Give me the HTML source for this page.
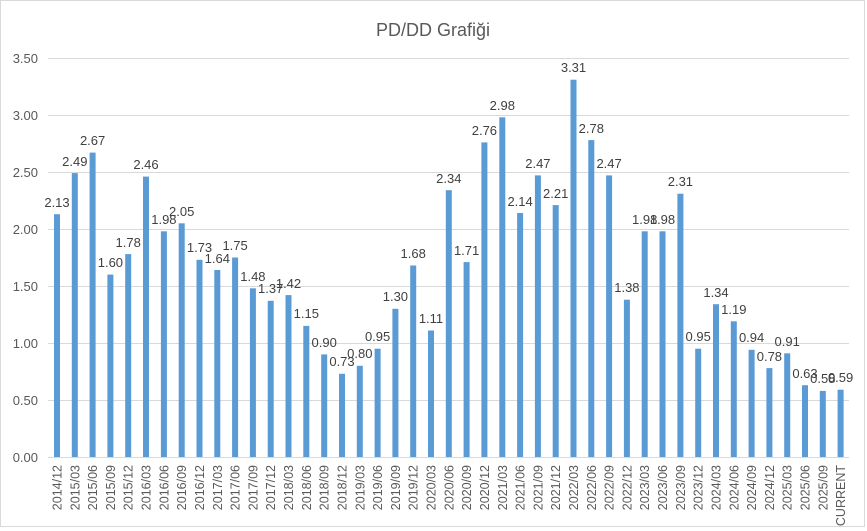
<!DOCTYPE html>
<html><head><meta charset="utf-8"><style>
html,body{margin:0;padding:0;background:#fff}
svg{display:block;font-family:"Liberation Sans",sans-serif}
</style></head><body>
<svg width="867" height="531" viewBox="0 0 867 531">
<rect x="0.5" y="0.5" width="864" height="526" fill="#fff" stroke="#d9d9d9"/>
<text x="433" y="36" font-size="18" fill="#595959" text-anchor="middle">PD/DD Grafiği</text>
<g stroke="#d9d9d9" stroke-width="1">
<line x1="48" x2="849" y1="58.5" y2="58.5"/><line x1="48" x2="849" y1="115.5" y2="115.5"/>
<line x1="48" x2="849" y1="172.5" y2="172.5"/><line x1="48" x2="849" y1="229.5" y2="229.5"/>
<line x1="48" x2="849" y1="286.5" y2="286.5"/><line x1="48" x2="849" y1="343.5" y2="343.5"/>
<line x1="48" x2="849" y1="400.5" y2="400.5"/><line x1="48" x2="849" y1="457.5" y2="457.5"/>
</g>
<g font-size="13" fill="#595959" text-anchor="end">
<text x="38" y="63">3.50</text><text x="38" y="120">3.00</text><text x="38" y="177">2.50</text>
<text x="38" y="234">2.00</text><text x="38" y="291">1.50</text><text x="38" y="348">1.00</text>
<text x="38" y="405">0.50</text><text x="38" y="462">0.00</text>
</g>
<g fill="#5b9bd5">
<rect x="54" y="214.2" width="6" height="242.8"/>
<rect x="71.8" y="173.1" width="6" height="283.9"/>
<rect x="89.6" y="152.6" width="6" height="304.4"/>
<rect x="107.4" y="274.6" width="6" height="182.4"/>
<rect x="125.2" y="254.1" width="6" height="202.9"/>
<rect x="143" y="176.6" width="6" height="280.4"/>
<rect x="160.9" y="231.3" width="6" height="225.7"/>
<rect x="178.7" y="223.3" width="6" height="233.7"/>
<rect x="196.5" y="259.8" width="6" height="197.2"/>
<rect x="214.3" y="270" width="6" height="187"/>
<rect x="232.1" y="257.5" width="6" height="199.5"/>
<rect x="249.9" y="288.3" width="6" height="168.7"/>
<rect x="267.7" y="300.8" width="6" height="156.2"/>
<rect x="285.5" y="295.1" width="6" height="161.9"/>
<rect x="303.3" y="325.9" width="6" height="131.1"/>
<rect x="321.2" y="354.4" width="6" height="102.6"/>
<rect x="339" y="373.8" width="6" height="83.2"/>
<rect x="356.8" y="365.8" width="6" height="91.2"/>
<rect x="374.6" y="348.7" width="6" height="108.3"/>
<rect x="392.4" y="308.8" width="6" height="148.2"/>
<rect x="410.2" y="265.5" width="6" height="191.5"/>
<rect x="428" y="330.5" width="6" height="126.5"/>
<rect x="445.8" y="190.2" width="6" height="266.8"/>
<rect x="463.6" y="262.1" width="6" height="194.9"/>
<rect x="481.4" y="142.4" width="6" height="314.6"/>
<rect x="499.3" y="117.3" width="6" height="339.7"/>
<rect x="517.1" y="213" width="6" height="244"/>
<rect x="534.9" y="175.4" width="6" height="281.6"/>
<rect x="552.7" y="205.1" width="6" height="251.9"/>
<rect x="570.5" y="79.7" width="6" height="377.3"/>
<rect x="588.3" y="140.1" width="6" height="316.9"/>
<rect x="606.1" y="175.4" width="6" height="281.6"/>
<rect x="623.9" y="299.7" width="6" height="157.3"/>
<rect x="641.7" y="231.3" width="6" height="225.7"/>
<rect x="659.5" y="231.3" width="6" height="225.7"/>
<rect x="677.4" y="193.7" width="6" height="263.3"/>
<rect x="695.2" y="348.7" width="6" height="108.3"/>
<rect x="713" y="304.2" width="6" height="152.8"/>
<rect x="730.8" y="321.3" width="6" height="135.7"/>
<rect x="748.6" y="349.8" width="6" height="107.2"/>
<rect x="766.4" y="368.1" width="6" height="88.9"/>
<rect x="784.2" y="353.3" width="6" height="103.7"/>
<rect x="802" y="385.2" width="6" height="71.8"/>
<rect x="819.8" y="390.9" width="6" height="66.1"/>
<rect x="837.6" y="389.7" width="6" height="67.3"/>
</g>
<g font-size="13" fill="#404040" text-anchor="middle">
<text x="57" y="207">2.13</text><text x="74.8" y="166">2.49</text><text x="92.6" y="145">2.67</text>
<text x="110.4" y="267">1.60</text><text x="128.2" y="247">1.78</text><text x="146" y="169">2.46</text>
<text x="163.9" y="224">1.98</text><text x="181.7" y="216">2.05</text><text x="199.5" y="252">1.73</text>
<text x="217.3" y="263">1.64</text><text x="235.1" y="250">1.75</text><text x="252.9" y="281">1.48</text>
<text x="270.7" y="293">1.37</text><text x="288.5" y="288">1.42</text><text x="306.3" y="318">1.15</text>
<text x="324.2" y="347">0.90</text><text x="342" y="366">0.73</text><text x="359.8" y="358">0.80</text>
<text x="377.6" y="341">0.95</text><text x="395.4" y="301">1.30</text><text x="413.2" y="258">1.68</text>
<text x="431" y="323">1.11</text><text x="448.8" y="183">2.34</text><text x="466.6" y="255">1.71</text>
<text x="484.4" y="135">2.76</text><text x="502.3" y="110">2.98</text><text x="520.1" y="206">2.14</text>
<text x="537.9" y="168">2.47</text><text x="555.7" y="198">2.21</text><text x="573.5" y="72">3.31</text>
<text x="591.3" y="133">2.78</text><text x="609.1" y="168">2.47</text><text x="626.9" y="292">1.38</text>
<text x="644.7" y="224">1.98</text><text x="662.5" y="224">1.98</text><text x="680.4" y="186">2.31</text>
<text x="698.2" y="341">0.95</text><text x="716" y="297">1.34</text><text x="733.8" y="314">1.19</text>
<text x="751.6" y="342">0.94</text><text x="769.4" y="361">0.78</text><text x="787.2" y="346">0.91</text>
<text x="805" y="378">0.63</text><text x="822.8" y="383">0.58</text><text x="840.6" y="382">0.59</text>
</g>
<g font-size="12.5" fill="#595959" text-anchor="end">
<text transform="translate(61.5,465) rotate(-90)">2014/12</text>
<text transform="translate(79.3,465) rotate(-90)">2015/03</text>
<text transform="translate(97.1,465) rotate(-90)">2015/06</text>
<text transform="translate(114.9,465) rotate(-90)">2015/09</text>
<text transform="translate(132.7,465) rotate(-90)">2015/12</text>
<text transform="translate(150.5,465) rotate(-90)">2016/03</text>
<text transform="translate(168.4,465) rotate(-90)">2016/06</text>
<text transform="translate(186.2,465) rotate(-90)">2016/09</text>
<text transform="translate(204,465) rotate(-90)">2016/12</text>
<text transform="translate(221.8,465) rotate(-90)">2017/03</text>
<text transform="translate(239.6,465) rotate(-90)">2017/06</text>
<text transform="translate(257.4,465) rotate(-90)">2017/09</text>
<text transform="translate(275.2,465) rotate(-90)">2017/12</text>
<text transform="translate(293,465) rotate(-90)">2018/03</text>
<text transform="translate(310.8,465) rotate(-90)">2018/06</text>
<text transform="translate(328.7,465) rotate(-90)">2018/09</text>
<text transform="translate(346.5,465) rotate(-90)">2018/12</text>
<text transform="translate(364.3,465) rotate(-90)">2019/03</text>
<text transform="translate(382.1,465) rotate(-90)">2019/06</text>
<text transform="translate(399.9,465) rotate(-90)">2019/09</text>
<text transform="translate(417.7,465) rotate(-90)">2019/12</text>
<text transform="translate(435.5,465) rotate(-90)">2020/03</text>
<text transform="translate(453.3,465) rotate(-90)">2020/06</text>
<text transform="translate(471.1,465) rotate(-90)">2020/09</text>
<text transform="translate(488.9,465) rotate(-90)">2020/12</text>
<text transform="translate(506.8,465) rotate(-90)">2021/03</text>
<text transform="translate(524.6,465) rotate(-90)">2021/06</text>
<text transform="translate(542.4,465) rotate(-90)">2021/09</text>
<text transform="translate(560.2,465) rotate(-90)">2021/12</text>
<text transform="translate(578,465) rotate(-90)">2022/03</text>
<text transform="translate(595.8,465) rotate(-90)">2022/06</text>
<text transform="translate(613.6,465) rotate(-90)">2022/09</text>
<text transform="translate(631.4,465) rotate(-90)">2022/12</text>
<text transform="translate(649.2,465) rotate(-90)">2023/03</text>
<text transform="translate(667,465) rotate(-90)">2023/06</text>
<text transform="translate(684.9,465) rotate(-90)">2023/09</text>
<text transform="translate(702.7,465) rotate(-90)">2023/12</text>
<text transform="translate(720.5,465) rotate(-90)">2024/03</text>
<text transform="translate(738.3,465) rotate(-90)">2024/06</text>
<text transform="translate(756.1,465) rotate(-90)">2024/09</text>
<text transform="translate(773.9,465) rotate(-90)">2024/12</text>
<text transform="translate(791.7,465) rotate(-90)">2025/03</text>
<text transform="translate(809.5,465) rotate(-90)">2025/06</text>
<text transform="translate(827.3,465) rotate(-90)">2025/09</text>
<text transform="translate(845.1,465) rotate(-90)">CURRENT</text>
</g>
</svg>
</body></html>
